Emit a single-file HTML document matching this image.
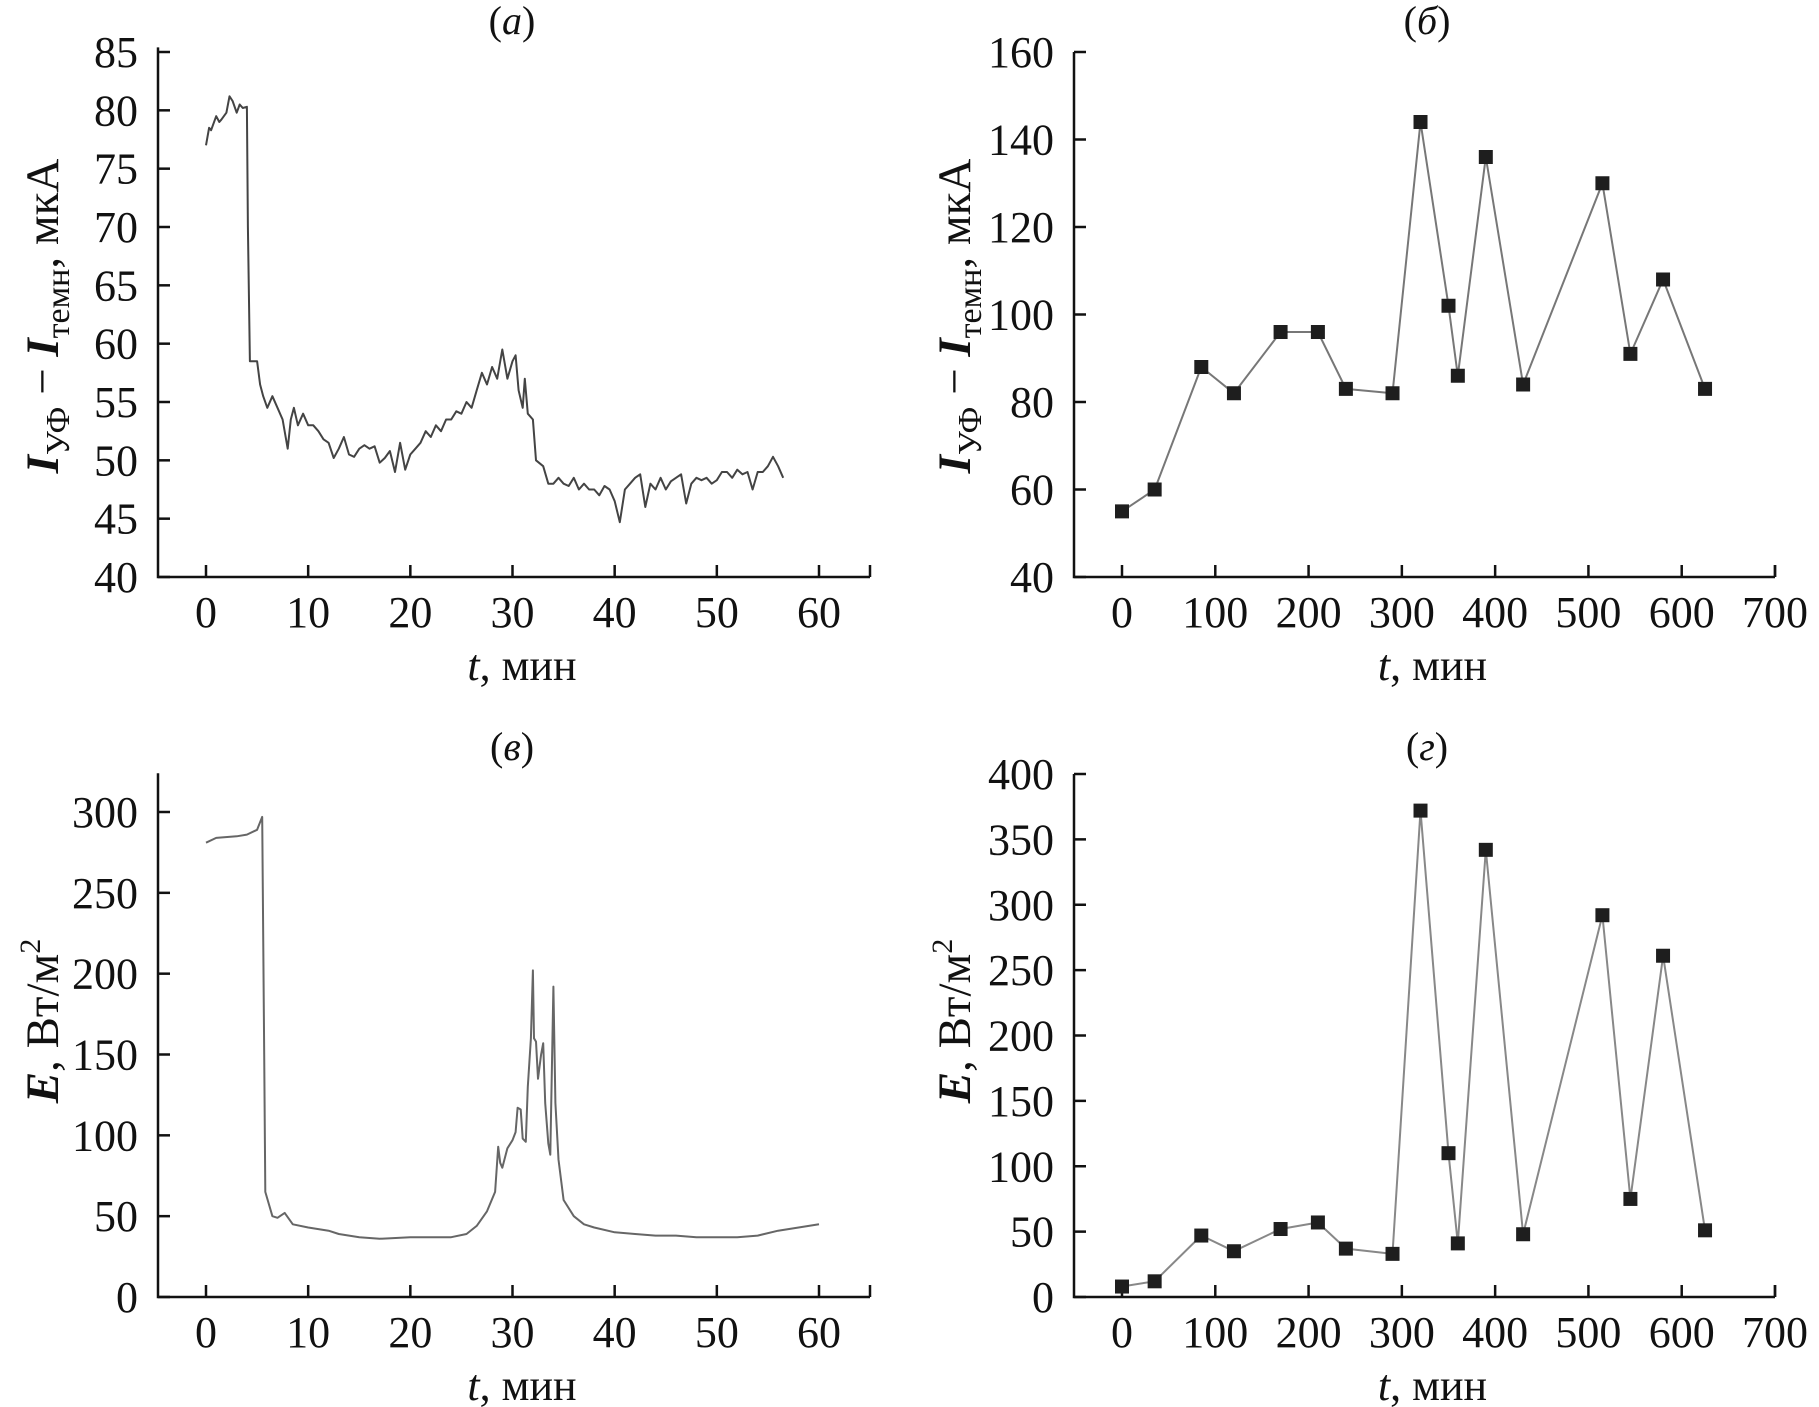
<!DOCTYPE html>
<html><head><meta charset="utf-8"><style>
html,body{margin:0;padding:0;background:#fff;}
svg{display:block;font-family:"Liberation Serif",serif;}
</style></head><body>
<svg id="fig" width="1819" height="1407" viewBox="0 0 1819 1407" xmlns="http://www.w3.org/2000/svg"></svg>
<script>
// Panel (a) data: time (min) and I_UV - I_dark (µA)
const aT = [0,0.3,0.5,1,1.3,1.5,2,2.3,2.6,3,3.3,3.6,4,4.1,4.3,5,5.3,5.6,6,6.5,7,7.5,8,8.3,8.6,9,9.5,10,10.5,11,11.5,12,12.5,13,13.5,14,14.5,15,15.5,16,16.5,17,17.5,18,18.5,19,19.5,20,20.5,21,21.5,22,22.5,23,23.5,24,24.5,25,25.5,26,26.5,27,27.5,28,28.5,29,29.5,30,30.3,30.6,31,31.2,31.5,32,32.3,33,33.5,34,34.5,35,35.5,36,36.5,37,37.5,38,38.5,39,39.5,40,40.5,41,41.5,42,42.5,43,43.5,44,44.5,45,45.5,46,46.5,47,47.5,48,48.5,49,49.5,50,50.5,51,51.5,52,52.5,53,53.5,54,54.5,55,55.5,56,56.5];
const aI = [77,78.5,78.3,79.5,79,79.2,79.8,81.2,80.8,79.8,80.5,80.2,80.3,70,58.5,58.5,56.5,55.5,54.5,55.5,54.5,53.5,51,53.5,54.5,53,54,53,53,52.5,51.8,51.5,50.2,51,52,50.5,50.3,51,51.3,51,51.2,49.8,50.2,50.8,49,51.5,49.2,50.5,51,51.5,52.5,52,53,52.5,53.5,53.5,54.2,54,55,54.5,56,57.5,56.5,58,57,59.5,57,58.5,59,56,54.5,57,54,53.5,50,49.5,48,48,48.5,48,47.8,48.5,47.5,48,47.5,47.5,47,47.8,47.5,46.5,44.7,47.5,48,48.5,48.8,46,48,47.5,48.5,47.5,48.2,48.5,48.8,46.3,48,48.5,48.3,48.5,48,48.3,49,49,48.5,49.2,48.8,49,47.5,49,49,49.5,50.3,49.5,48.5];
// Panel (b) data
const bT = [0,35,85,120,170,210,240,290,320,350,360,390,430,515,545,580,625];
const bI = [55,60,88,82,96,96,83,82,144,102,86,136,84,130,91,108,83];
// Panel (c) data: irradiance E
const cT = [0,1,3,4,5,5.5,5.7,5.8,6.5,7,7.7,8.5,10,12,13,15,17,20,22,24,25.5,26.5,27.5,28.3,28.6,28.8,29,29.5,30,30.3,30.5,30.8,31,31.3,31.5,31.8,32,32.1,32.3,32.5,32.8,33,33.2,33.5,33.7,34,34.2,34.5,35,36,37,38,40,42,44,46,48,50,52,54,56,58,60];
const cE = [281,284,285,286,289,297,150,65,50,49,52,45,43,41,39,37,36,37,37,37,39,44,53,65,93,83,80,92,97,102,117,116,98,96,130,160,202,160,158,135,150,157,120,95,88,192,120,85,60,50,45,43,40,39,38,38,37,37,37,38,41,43,45];
// Panel (d) data
const dT = [0,35,85,120,170,210,240,290,320,350,360,390,430,515,545,580,625];
const dE = [8,12,47,35,52,57,37,33,372,110,41,342,48,292,75,261,51];

const aXTicks = [0,10,20,30,40,50,60];
const aYTicks = [40,45,50,55,60,65,70,75,80,85];
const bXTicks = [0,100,200,300,400,500,600,700];
const bYTicks = [40,60,80,100,120,140,160];
const cYTicks = [0,50,100,150,200,250,300];
const dYTicks = [0,50,100,150,200,250,300,350,400];

const NS = "http://www.w3.org/2000/svg";
const svg = document.getElementById('fig');
function el(tag, attrs, parent){const e=document.createElementNS(NS,tag);for(const k in attrs)e.setAttribute(k,attrs[k]);(parent||svg).appendChild(e);return e;}

function panel(cfg){
  const g = el('g',{});
  
  
  const sx = v => cfg.px0 + (v - cfg.x0)/(cfg.x1 - cfg.x0)*(cfg.px1 - cfg.px0);
  const sy = v => cfg.py0 + (v - cfg.y0)/(cfg.y1 - cfg.y0)*(cfg.py1 - cfg.py0);
  const left = cfg.axisLeft, right = cfg.axisRight, bottom = sy(cfg.y0), top = sy(cfg.yTop);
  const ax = el('path',{d:`M${left},${top} L${left},${bottom} L${right},${bottom}`,fill:'none',stroke:'#111','stroke-width':2.5},g);
  
  
  el('line',{x1:right,y1:bottom,x2:right,y2:bottom-12,stroke:'#111','stroke-width':2.5},g);
  cfg.xTicks.forEach(v=>{
    const x=sx(v);
    el('line',{x1:x,y1:bottom,x2:x,y2:bottom-12,stroke:'#111','stroke-width':2.5},g);
    const t=el('text',{x:x,y:cfg.xTickBase,'text-anchor':'middle','font-size':44,fill:'#111'},g);
    t.textContent=v;
    
    
  });
  cfg.yTicks.forEach(v=>{
    const y=sy(v);
    el('line',{x1:left,y1:y,x2:left+12,y2:y,stroke:'#111','stroke-width':2.5},g);
    const t=el('text',{x:left-20,y:y+15,'text-anchor':'end','font-size':44,fill:'#111'},g);
    t.textContent=v;
    
    
  });
  let d='';
  cfg.xs.forEach((v,i)=>{d+=(i?'L':'M')+sx(v).toFixed(1)+','+sy(cfg.ys[i]).toFixed(1);});
  const line=el('path',{d:d,fill:'none',stroke:cfg.lineColor,'stroke-width':cfg.lw,'stroke-linejoin':'round'},g);
  
  
  if(cfg.markers){
    cfg.xs.forEach((v,i)=>{
      const m=el('rect',{x:sx(v)-7,y:sy(cfg.ys[i])-7,width:14,height:14,fill:'#1e1e1e'},g);
      
      
    });
  }
  const tt=el('text',{x:cfg.titleX,y:cfg.titleY,'text-anchor':'middle','font-size':40,fill:'#111'},g);
  tt.innerHTML='(<tspan font-style="italic">'+cfg.letter+'</tspan>)';
  
  
  const xt=el('text',{x:(left+right)/2+8,y:cfg.xTitleY,'text-anchor':'middle','font-size':44,fill:'#111'},g);
  xt.innerHTML='<tspan font-style="italic">t</tspan>, мин';
  
  
  const yt=el('text',{x:0,y:0,'text-anchor':'middle','font-size':47,fill:'#111',transform:`translate(${cfg.yTitleX},${cfg.yTitleY}) rotate(-90)`},g);
  yt.innerHTML=cfg.yTitle;
  
  
}

const IT = '<tspan font-style="italic" font-weight="bold">I</tspan><tspan font-size="34" dy="11">УФ</tspan><tspan dy="-11"> − </tspan><tspan font-style="italic" font-weight="bold">I</tspan><tspan font-size="34" dy="11">темн</tspan><tspan dy="-11">, мкА</tspan>';
const ET = '<tspan font-style="italic" font-weight="bold">E</tspan>, Вт/м<tspan font-size="30" dy="-18">2</tspan>';

panel({name:'panel-a',letter:'а',xs:aT,ys:aI,x0:0,x1:60,px0:206,px1:819,y0:40,y1:85,py0:577,py1:52,yTop:85.4,
  axisLeft:158,axisRight:870,xTicks:aXTicks,yTicks:aYTicks,xTickBase:627,xTitleY:680,titleX:512,titleY:34,
  yTitleX:58,yTitleY:316,yTitle:IT,lineColor:'#444',lw:2,markers:false});
panel({name:'panel-b',letter:'б',xs:bT,ys:bI,x0:0,x1:700,px0:1122,px1:1775,y0:40,y1:160,py0:577,py1:52,yTop:160,
  axisLeft:1074,axisRight:1775,xTicks:bXTicks,yTicks:bYTicks,xTickBase:627,xTitleY:680,titleX:1427,titleY:34,
  yTitleX:970,yTitleY:316,yTitle:IT,lineColor:'#777',lw:2,markers:true});
panel({name:'panel-c',letter:'в',xs:cT,ys:cE,x0:0,x1:60,px0:206,px1:819,y0:0,y1:300,py0:1297,py1:812,yTop:324,
  axisLeft:158,axisRight:870,xTicks:aXTicks,yTicks:cYTicks,xTickBase:1347,xTitleY:1400,titleX:512,titleY:760,
  yTitleX:58,yTitleY:1021,yTitle:ET,lineColor:'#666',lw:2,markers:false});
panel({name:'panel-d',letter:'г',xs:dT,ys:dE,x0:0,x1:700,px0:1122,px1:1775,y0:0,y1:400,py0:1297,py1:774,yTop:400,
  axisLeft:1074,axisRight:1775,xTicks:bXTicks,yTicks:dYTicks,xTickBase:1347,xTitleY:1400,titleX:1427,titleY:760,
  yTitleX:970,yTitleY:1021,yTitle:ET,lineColor:'#888',lw:2,markers:true});
</script>
</body></html>
